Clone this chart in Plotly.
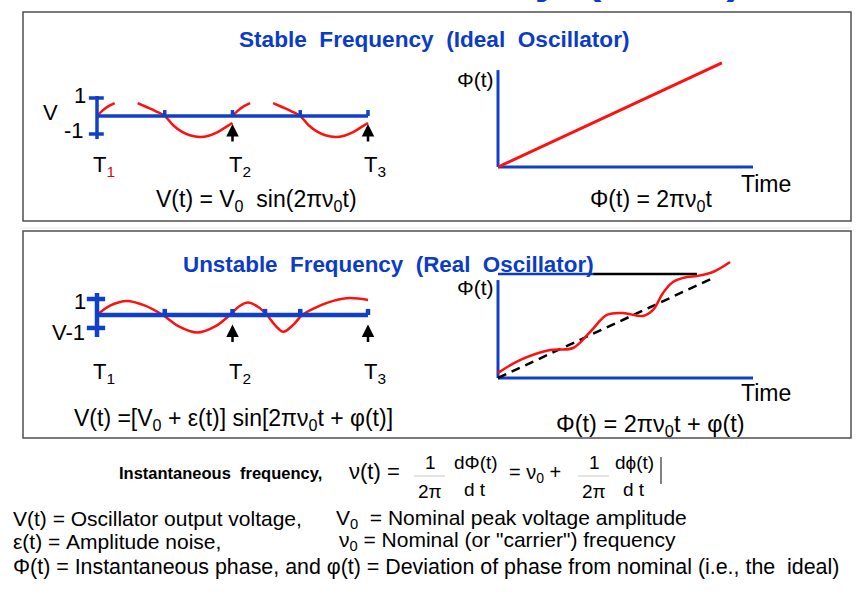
import plotly.graph_objects as go

W, H = 862, 595
FONT = "Liberation Sans, Arial, sans-serif"
BLUE = "#1040C8"
TBLUE = "#0A3CC8"
RED = "#FF1010"

# ---------------- data ----------------
# Panel A: ideal sine (x: half-periods, y: V units), None = hidden part
ideal_x = [0, 0.08, 0.17, 0.26, None, 0.6, 0.73, 0.87, 1.0,
           1.12, 1.25, 1.37, 1.52, 1.65, 1.78, 1.9, 2.0, None,
           2.0, 2.08, 2.17, 2.26, None, 2.6, 2.73, 2.87, 3.0,
           3.12, 3.25, 3.37, 3.52, 3.65, 3.78, 3.9, 4.0]
ideal_v = [0, 0.3, 0.55, 0.72, None, 0.72, 0.5, 0.26, 0,
           -0.5, -0.87, -1.07, -1.17, -1.1, -0.9, -0.62, -0.39, None,
           0, 0.3, 0.55, 0.72, None, 0.72, 0.5, 0.26, 0,
           -0.5, -0.87, -1.07, -1.17, -1.1, -0.9, -0.62, -0.39]
ticks_A = [1, 2, 3, 4]

# Panel B: real (unstable) oscillator voltage
real_x = [0, 0.2, 0.44, 0.7, 0.97, 1.2, 1.48, 1.75, 1.96, 2.1, 2.23, 2.38, 2.51,
          2.63, 2.75, 2.9, 3.03, 3.3, 3.5, 3.73, 4.0]
real_v = [0, 0.6, 0.88, 0.6, 0, -0.7, -1.1, -0.7, 0, 0.55, 0.78, 0.5, 0,
          -0.65, -1.05, -0.6, 0, 0.6, 0.9, 1.06, 0.94]
ticks_B = [1, 2, 2.48, 3, 4]
arrow_times = [2, 4]

# Panel C: ideal phase
ideal_t = [0, 8.78]
ideal_phi = [0, 10.2]

# Panel D: real phase
real_t = [0, 0.86, 2.04, 2.94, 3.61, 4.27, 4.9, 5.69, 6.08, 6.47, 6.86, 7.41, 7.8, 8.43, 9.1]
real_phi = [0.5, 1.76, 2.75, 2.94, 4.51, 6.18, 6.37, 6.08, 6.67, 8.33, 9.41, 9.9, 10.0, 10.39, 11.37]
nominal_t = [0, 8.51]
nominal_phi = [0, 9.9]

# ---------------- layout helpers ----------------
def P(px, py):
    return px / W, 1 - py / H

panels = {
    # name: (px0, px1, py_top, py_bottom, ox, sx, oy, sy)
    1: (40, 420, 85, 150, 97, 67.75, 116, 18),
    2: (40, 420, 280, 350, 97, 67.75, 315, 16),
    3: (470, 800, 50, 180, 498, 25.5, 167, 10.2),
    4: (470, 800, 250, 390, 498, 25.5, 378, 10.2),
}

fig = go.Figure()
layout = dict(width=W, height=H, margin=dict(l=0, r=0, t=0, b=0),
              paper_bgcolor="white", plot_bgcolor="rgba(0,0,0,0)",
              showlegend=False, font=dict(family=FONT, color="black"))
for i, (px0, px1, pt, pb, ox, sx, oy, sy) in panels.items():
    s = "" if i == 1 else str(i)
    layout["xaxis" + s] = dict(domain=[px0 / W, px1 / W],
                               range=[(px0 - ox) / sx, (px1 - ox) / sx],
                               visible=False, fixedrange=True, anchor="y" + s)
    layout["yaxis" + s] = dict(domain=[1 - pb / H, 1 - pt / H],
                               range=[(oy - pb) / sy, (oy - pt) / sy],
                               visible=False, fixedrange=True, anchor="x" + s)
fig.update_layout(**layout)

def line(x, y, ax, color, width, dash=None, shape="linear"):
    s = "" if ax == 1 else str(ax)
    fig.add_trace(go.Scatter(x=x, y=y, mode="lines", xaxis="x" + s, yaxis="y" + s,
                             line=dict(color=color, width=width, dash=dash, shape=shape),
                             hoverinfo="skip", connectgaps=False))

def segs(pairs):
    xs, ys = [], []
    for (x0, y0, x1, y1) in pairs:
        xs += [x0, x1, None]
        ys += [y0, y1, None]
    return xs, ys

# Panel A axes
line(ideal_x, ideal_v, 1, RED, 2.5, shape="spline")
xs, ys = segs([(0, 0, 4, 0), (0, 1.11, 0, -1.28), (-0.12, 1, 0.1, 1), (-0.12, -1, 0.1, -1)]
              + [(t, 0, t, 0.33) for t in ticks_A])
line(xs, ys, 1, BLUE, 3.5)

# Panel B
line(real_x, real_v, 2, RED, 2.5, shape="spline")
xs, ys = segs([(0, 0, 4, 0), (0, 1.375, 0, -1.375), (-0.15, 1, 0.12, 1), (-0.15, -0.81, 0.12, -0.81)]
              + [(t, 0, t, 0.38) for t in ticks_B])
line(xs, ys, 2, BLUE, 4.5)

# Panel C
xs, ys = segs([(0, 0, 10, 0), (0, 0, 0, 9.5)])
line(xs, ys, 3, BLUE, 3)
line(ideal_t, ideal_phi, 3, RED, 3)

# Panel D
xs, ys = segs([(0, 0, 10, 0), (0, 0, 0, 9.6)])
line(xs, ys, 4, BLUE, 3)
line([0, 3.73], [10.2, 10.2], 4, TBLUE, 2.5)
line([3.73, 7.8], [10.2, 10.2], 4, "black", 2.5)
line(nominal_t, nominal_phi, 4, "black", 2.5, dash="9px,6px")
line(real_t, real_phi, 4, RED, 2.5, shape="spline")

# ---------------- shapes ----------------
shapes = []
def rect(x0, y0, x1, y1, color, w):
    a = P(x0, y0); b = P(x1, y1)
    shapes.append(dict(type="rect", xref="paper", yref="paper", x0=a[0], y0=b[1], x1=b[0], y1=a[1],
                       line=dict(color=color, width=w), fillcolor="rgba(0,0,0,0)"))
def pline(x0, y0, x1, y1, color, w):
    a = P(x0, y0); b = P(x1, y1)
    shapes.append(dict(type="line", xref="paper", yref="paper", x0=a[0], y0=a[1], x1=b[0], y1=b[1],
                       line=dict(color=color, width=w)))
rect(23, 12, 851, 221, "#505050", 1.5)
pline(23, 228, 851, 228, "#e6e6e6", 1)
rect(23, 231, 851, 438, "#505050", 1.5)
pline(414, 476, 445, 476, "#c8c8c8", 1)
pline(578, 476, 609, 476, "#c8c8c8", 1)
pline(661, 457, 661, 484, "#303030", 1.2)
fig.update_layout(shapes=shapes)

# ---------------- text ----------------
ann = []
def T(text, px, py, size=21, xa="center", ya="middle", color="black", bold=False):
    x, y = P(px, py)
    if bold:
        text = "<b>" + text + "</b>"
    ann.append(dict(text=text, x=x, y=y, xref="paper", yref="paper", xanchor=xa, yanchor=ya,
                    showarrow=False, font=dict(size=size, color=color, family=FONT)))

NB = "\u00a0"
# cut-off slide title
T("Short Term Instability" + NB + NB + "(Noise)", 744, 4, size=46, xa="right", ya="bottom", color=TBLUE, bold=True)

T("Stable" + NB + NB + "Frequency" + NB + NB + "(Ideal" + NB + NB + "Oscillator)", 434, 40, size=22.6, color=TBLUE, bold=True)
T("Unstable" + NB + NB + "Frequency" + NB + NB + "(Real" + NB + NB + "Oscillator)", 388, 264, size=22.4, color=TBLUE, bold=True)

# Panel A labels
T("V", 50, 112, size=22)
T("1", 80, 96, size=22)
T("-1", 86, 130, xa="right", size=22)
T("T<sub><span style='color:#d01010'>1</span></sub>", 91, 166, xa="left", size=22)
for lbl, px in [("2", 227), ("3", 362)]:
    T("T<sub>" + lbl + "</sub>", px, 166, xa="left", size=22)
T("V(t) = V<sub>0</sub>" + NB + " sin(2πν<sub>0</sub>t)", 256, 200, size=23)

# Panel B labels
T("1", 80, 301, size=22)
T("V-1", 87, 332, xa="right", size=22)
for lbl, px in [("1", 91), ("2", 227), ("3", 362)]:
    T("T<sub>" + lbl + "</sub>", px, 373, xa="left", size=22)
T("V(t) =[V<sub>0</sub> + ε(t)] sin[2πν<sub>0</sub>t + φ(t)]", 233, 419, size=23)

# Panel C labels
T("Φ(t)", 475, 80)
T("Time", 766, 184, size=23)
T("Φ(t) = 2πν<sub>0</sub>t", 651, 200, size=23)

# Panel D labels
T("Φ(t)", 475, 287)
T("Time", 766, 393, size=23)
T("Φ(t) = 2πν<sub>0</sub>t + φ(t)", 650, 425, size=23.5)

# formula line
T("Instantaneous" + NB + " frequency,", 117, 473, size=16.5, xa="left", bold=True)
T("ν(t) =", 347, 471, size=22, xa="left")
T("1", 430, 462, size=19)
T("2π", 430, 491, size=19)
T("dΦ(t)", 476, 462, size=19)
T("d t", 475, 489, size=19)
T("= ν<sub>0</sub> +", 507, 474, size=20, xa="left")
T("1", 594, 462, size=19)
T("2π", 594, 491, size=19)
T("dϕ(t)", 634, 462, size=19)
T("d t", 634, 489, size=19)

# definitions
T("V(t) = Oscillator output voltage,", 11, 518, xa="left", size=21)
T("V<sub>0</sub>" + NB + " = Nominal peak voltage amplitude", 334, 519, xa="left", size=21)
T("ε(t) = Amplitude noise,", 11, 541, xa="left", size=21)
T("ν<sub>0</sub> = Nominal (or \"carrier\") frequency", 337, 541, xa="left", size=21)
T("Φ(t) = Instantaneous phase, and φ(t) = Deviation of phase from nominal (i.e., the" + NB + " ideal)",
  11, 567, xa="left", size=21.4)

# arrows
for t in arrow_times:
    ann.append(dict(x=t, y=-0.45, xref="x", yref="y", ax=0, ay=19, showarrow=True, text="",
                    arrowhead=2, arrowsize=1, arrowwidth=2.5, arrowcolor="black"))
    ann.append(dict(x=t, y=-0.6, xref="x2", yref="y2", ax=0, ay=19, showarrow=True, text="",
                    arrowhead=2, arrowsize=1, arrowwidth=2.5, arrowcolor="black"))
fig.update_layout(annotations=ann)

fig.write_html("out.html", config={"displayModeBar": False, "staticPlot": True},
               post_script="document.body.style.margin='0';document.body.style.padding='0';")
